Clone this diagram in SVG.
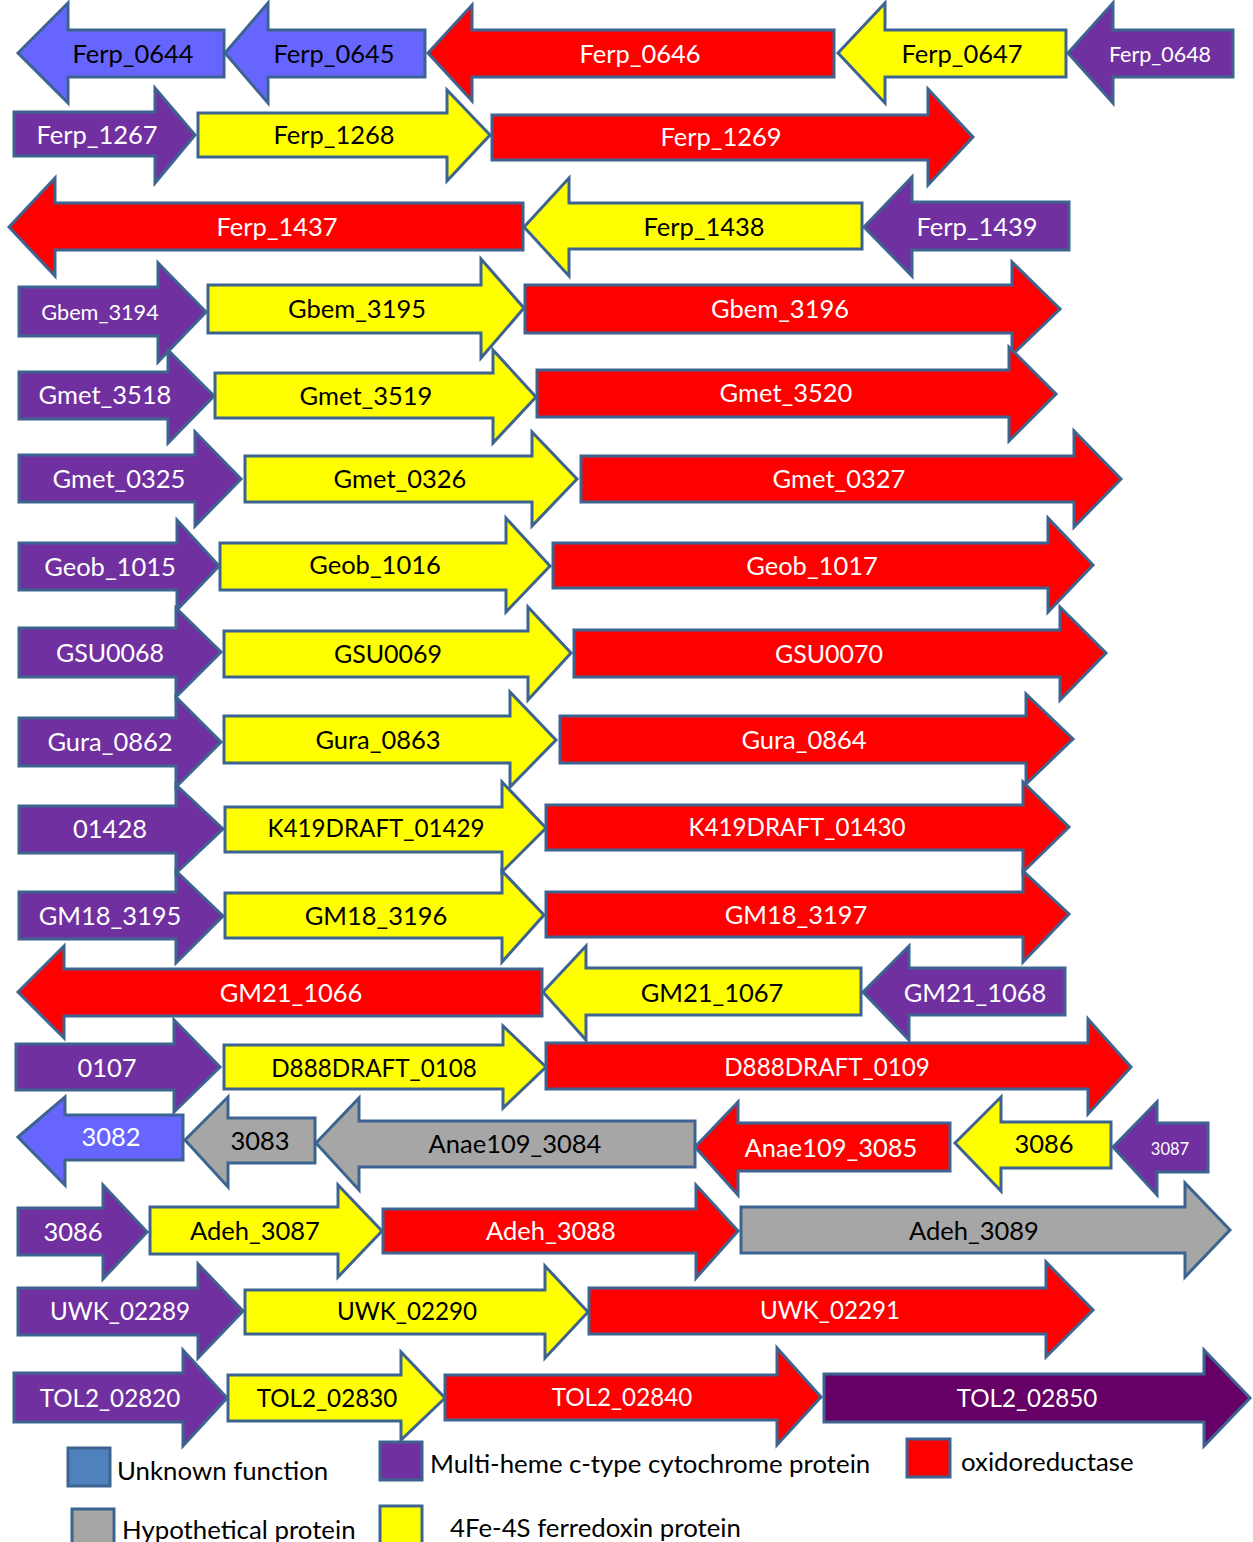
<svg xmlns="http://www.w3.org/2000/svg" width="1253" height="1542" viewBox="0 0 1253 1542">
<style>
.a{stroke:#3D6491;stroke-width:3;stroke-linejoin:miter}
.blue{fill:#6666FF}.pur{fill:#7030A0}.red{fill:#FF0000}.yel{fill:#FFFF00}.gry{fill:#A6A6A6}.dpur{fill:#660066}.unk{fill:#4F81BD}
text{font-family:Lato,"Open Sans","Liberation Sans",sans-serif;font-size:25.5px;text-anchor:middle}
.w{fill:#FFFFFF}.k{fill:#000000}
.n{font-size:24.2px}
.lg{text-anchor:start;font-size:25.8px;fill:#000}
</style>
<rect width="1253" height="1542" fill="#FFFFFF"/>
<g id="connectors"/>
<!-- Row 1 -->
<g id="Ferp_0644"><polygon class="a blue" points="18,53 68,3 68,30 224,30 224,77 68,77 68,103"/><text class="k" x="133" y="63">Ferp_0644</text></g>
<g id="Ferp_0645"><polygon class="a blue" points="225,53 268,3 268,30 425,30 425,77 268,77 268,103"/><text class="k" x="334" y="63">Ferp_0645</text></g>
<g id="Ferp_0646"><polygon class="a red" points="428,53 472,5 472,30 834,30 834,77 472,77 472,101"/><text class="w" x="640" y="63">Ferp_0646</text></g>
<g id="Ferp_0647"><polygon class="a yel" points="838,53 885,3 885,30 1066,30 1066,77 885,77 885,103"/><text class="k" x="962" y="63">Ferp_0647</text></g>
<g id="Ferp_0648"><polygon class="a pur" points="1068,53 1113,3 1113,30 1233,30 1233,77 1113,77 1113,103"/><text class="w" x="1160" y="62" style="font-size:21.5px">Ferp_0648</text></g>
<!-- Row 2 -->
<g id="Ferp_1267"><polygon class="a pur" points="14,112 155,112 155,88 195,135 155,183 155,156 14,156"/><text class="w" x="97" y="144">Ferp_1267</text></g>
<g id="Ferp_1268"><polygon class="a yel" points="198,113 447,113 447,90 490,135 447,181 447,157 198,157"/><text class="k" x="334" y="144">Ferp_1268</text></g>
<g id="Ferp_1269"><polygon class="a red" points="492,115 928,115 928,89 973,137 928,185 928,160 492,160"/><text class="w" x="721" y="146">Ferp_1269</text></g>
<!-- Row 3 -->
<g id="Ferp_1437"><polygon class="a red" points="9,227 55,178 55,203 523,203 523,250 55,250 55,276"/><text class="w" x="277" y="236">Ferp_1437</text></g>
<g id="Ferp_1438"><polygon class="a yel" points="524,227 569,178 569,203 862,203 862,249 569,249 569,276"/><text class="k" x="704" y="236">Ferp_1438</text></g>
<g id="Ferp_1439"><polygon class="a pur" points="864,227 912,177 912,202 1069,202 1069,250 912,250 912,276"/><text class="w" x="977" y="236">Ferp_1439</text></g>
<!-- Row 4 -->
<g id="Gbem_3194"><polygon class="a pur" points="19,287 158,287 158,263 206,312 158,362 158,336 19,336"/><text class="w" x="100" y="320" style="font-size:21.7px">Gbem_3194</text></g>
<g id="Gbem_3195"><polygon class="a yel" points="208,285 481,285 481,259 524,308 481,358 481,333 208,333"/><text class="k" x="357" y="318">Gbem_3195</text></g>
<g id="Gbem_3196"><polygon class="a red" points="525,285 1012,285 1012,262 1060,309 1012,355 1012,333 525,333"/><text class="w" x="780" y="318">Gbem_3196</text></g>
<!-- Row 5 -->
<g id="Gmet_3518"><polygon class="a pur" points="19,372 168,372 168,350 214,396 168,443 168,419 19,419"/><text class="w" x="105" y="404">Gmet_3518</text></g>
<g id="Gmet_3519"><polygon class="a yel" points="215,373 493,373 493,350 536,397 493,443 493,418 215,418"/><text class="k" x="366" y="405">Gmet_3519</text></g>
<g id="Gmet_3520"><polygon class="a red" points="537,370 1009,370 1009,347 1056,394 1009,441 1009,417 537,417"/><text class="w" x="786" y="402">Gmet_3520</text></g>
<!-- Row 6 -->
<g id="Gmet_0325"><polygon class="a pur" points="19,455 195,455 195,432 241,479 195,526 195,502 19,502"/><text class="w" x="119" y="488">Gmet_0325</text></g>
<g id="Gmet_0326"><polygon class="a yel" points="245,456 532,456 532,432 577,479 532,526 532,502 245,502"/><text class="k" x="400" y="488">Gmet_0326</text></g>
<g id="Gmet_0327"><polygon class="a red" points="581,456 1074,456 1074,431 1121,479 1074,527 1074,502 581,502"/><text class="w" x="839" y="488">Gmet_0327</text></g>
<!-- Row 7 -->
<g id="Geob_1015"><polygon class="a pur" points="19,543 177,543 177,520 219,566 177,610 177,590 19,590"/><text class="w" x="110" y="576">Geob_1015</text></g>
<g id="Geob_1016"><polygon class="a yel" points="220,543 506,543 506,518 550,566 506,612 506,590 220,590"/><text class="k" x="375" y="574">Geob_1016</text></g>
<g id="Geob_1017"><polygon class="a red" points="553,543 1048,543 1048,518 1093,565 1048,612 1048,588 553,588"/><text class="w" x="812" y="575">Geob_1017</text></g>
<!-- Row 8 -->
<g id="GSU0068"><polygon class="a pur" points="19,628 176,628 176,608 221,652 176,697 176,677 19,677"/><text class="w" x="110" y="662" style="font-size:25px">GSU0068</text></g>
<g id="GSU0069"><polygon class="a yel" points="224,631 528,631 528,607 571,653 528,700 528,677 224,677"/><text class="k" x="388" y="663" style="font-size:25px">GSU0069</text></g>
<g id="GSU0070"><polygon class="a red" points="574,630 1060,630 1060,607 1106,653 1060,700 1060,677 574,677"/><text class="w" x="829" y="663" style="font-size:25px">GSU0070</text></g>
<!-- Row 9 -->
<g id="Gura_0862"><polygon class="a pur" points="19,718 176,718 176,697 221,742 176,787 176,766 19,766"/><text class="w" x="110" y="751">Gura_0862</text></g>
<g id="Gura_0863"><polygon class="a yel" points="224,716 510,716 510,692 556,740 510,787 510,763 224,763"/><text class="k" x="378" y="749">Gura_0863</text></g>
<g id="Gura_0864"><polygon class="a red" points="560,716 1026,716 1026,694 1073,739 1026,784 1026,763 560,763"/><text class="w" x="804" y="749">Gura_0864</text></g>
<!-- Row 10 -->
<g id="K419_01428"><polygon class="a pur" points="19,806 176,806 176,785 223,829 176,873 176,853 19,853"/><text class="w" x="110" y="838">01428</text></g>
<g id="K419DRAFT_01429"><polygon class="a yel" points="225,807 502,807 502,782 546,828 502,872 502,852 225,852"/><text class="k n" x="376" y="837">K419DRAFT_01429</text></g>
<g id="K419DRAFT_01430"><polygon class="a red" points="546,805 1023,805 1023,782 1069,827 1023,872 1023,850 546,850"/><text class="w n" x="797" y="836">K419DRAFT_01430</text></g>
<!-- Row 11 -->
<g id="GM18_3195"><polygon class="a pur" points="19,892 176,892 176,871 223,916 176,963 176,939 19,939"/><text class="w" x="110" y="925">GM18_3195</text></g>
<g id="GM18_3196"><polygon class="a yel" points="225,893 502,893 502,871 544,915 502,962 502,938 225,938"/><text class="k" x="376" y="925">GM18_3196</text></g>
<g id="GM18_3197"><polygon class="a red" points="546,892 1023,892 1023,871 1069,914 1023,962 1023,937 546,937"/><text class="w" x="796" y="924">GM18_3197</text></g>
<!-- Row 12 -->
<g id="GM21_1066"><polygon class="a red" points="18,992 64,946 64,969 542,969 542,1016 64,1016 64,1038"/><text class="w" x="291" y="1002">GM21_1066</text></g>
<g id="GM21_1067"><polygon class="a yel" points="543,992 586,946 586,968 861,968 861,1015 586,1015 586,1040"/><text class="k" x="712" y="1002">GM21_1067</text></g>
<g id="GM21_1068"><polygon class="a pur" points="863,992 909,946 909,968 1065,968 1065,1015 909,1015 909,1040"/><text class="w" x="975" y="1002">GM21_1068</text></g>
<!-- Row 13 -->
<g id="D888_0107"><polygon class="a pur" points="16,1044 174,1044 174,1020 220,1067 174,1112 174,1090 16,1090"/><text class="w" x="107" y="1077">0107</text></g>
<g id="D888DRAFT_0108"><polygon class="a yel" points="224,1045 503,1045 503,1026 546,1067 503,1108 503,1089 224,1089"/><text class="k n" x="374" y="1077">D888DRAFT_0108</text></g>
<g id="D888DRAFT_0109"><polygon class="a red" points="546,1043 1088,1043 1088,1019 1131,1067 1088,1114 1088,1089 546,1089"/><text class="w n" x="827" y="1076">D888DRAFT_0109</text></g>
<!-- Row 14 -->
<g id="Anae109_3082"><polygon class="a blue" points="18,1137 65,1097 65,1115 183,1115 183,1160 65,1160 65,1185"/><text class="w" x="111" y="1146">3082</text></g>
<g id="Anae109_3083"><polygon class="a gry" points="185,1140 228,1097 228,1118 315,1118 315,1163 228,1163 228,1187"/><text class="k" x="260" y="1150">3083</text></g>
<g id="Anae109_3084"><polygon class="a gry" points="316,1143 359,1098 359,1121 695,1121 695,1167 359,1167 359,1190"/><text class="k" x="515" y="1153">Anae109_3084</text></g>
<g id="Anae109_3085"><polygon class="a red" points="695,1147 738,1102 738,1123 950,1123 950,1171 738,1171 738,1195"/><text class="w" x="831" y="1157">Anae109_3085</text></g>
<g id="Anae109_3086"><polygon class="a yel" points="955,1143 1001,1097 1001,1122 1111,1122 1111,1168 1001,1168 1001,1191"/><text class="k" x="1044" y="1153">3086</text></g>
<g id="Anae109_3087"><polygon class="a pur" points="1113,1147 1157,1102 1157,1123 1208,1123 1208,1172 1157,1172 1157,1195"/><text class="w" x="1170" y="1155" style="font-size:16.5px">3087</text></g>
<!-- Row 15 -->
<g id="Adeh_3086"><polygon class="a pur" points="18,1208 103,1208 103,1185 147,1232 103,1279 103,1255 18,1255"/><text class="w" x="73" y="1241">3086</text></g>
<g id="Adeh_3087"><polygon class="a yel" points="150,1207 338,1207 338,1185 382,1231 338,1277 338,1254 150,1254"/><text class="k" x="255" y="1240">Adeh_3087</text></g>
<g id="Adeh_3088"><polygon class="a red" points="383,1209 696,1209 696,1185 738,1231 696,1278 696,1253 383,1253"/><text class="w" x="551" y="1240">Adeh_3088</text></g>
<g id="Adeh_3089"><polygon class="a gry" points="741,1207 1185,1207 1185,1183 1230,1230 1185,1277 1185,1253 741,1253"/><text class="k" x="974" y="1240">Adeh_3089</text></g>
<!-- Row 16 -->
<g id="UWK_02289"><polygon class="a pur" points="18,1288 198,1288 198,1264 243,1311 198,1358 198,1335 18,1335"/><text class="w n" x="120" y="1320">UWK_02289</text></g>
<g id="UWK_02290"><polygon class="a yel" points="245,1290 545,1290 545,1266 588,1312 545,1358 545,1334 245,1334"/><text class="k n" x="407" y="1320">UWK_02290</text></g>
<g id="UWK_02291"><polygon class="a red" points="589,1288 1046,1288 1046,1262 1093,1310 1046,1357 1046,1334 589,1334"/><text class="w n" x="830" y="1319">UWK_02291</text></g>
<!-- Row 17 -->
<g id="TOL2_02820"><polygon class="a pur" points="14,1373 183,1373 183,1350 227,1398 183,1446 183,1422 14,1422"/><text class="w n" x="110" y="1407">TOL2_02820</text></g>
<g id="TOL2_02830"><polygon class="a yel" points="228,1375 401,1375 401,1352 445,1398 401,1440 401,1421 228,1421"/><text class="k n" x="327" y="1407">TOL2_02830</text></g>
<g id="TOL2_02840"><polygon class="a red" points="445,1375 777,1375 777,1348 821,1397 777,1445 777,1420 445,1420"/><text class="w n" x="622" y="1406">TOL2_02840</text></g>
<g id="TOL2_02850"><polygon class="a dpur" points="824,1374 1204,1374 1204,1350 1250,1398 1204,1446 1204,1422 824,1422"/><text class="w n" x="1027" y="1407">TOL2_02850</text></g>
<!-- Legend -->
<g id="legend">
<rect class="a unk" x="68" y="1448" width="42" height="38"/><text class="lg" x="117" y="1480">Unknown function</text>
<rect class="a pur" x="380" y="1442" width="42" height="38"/><text class="lg" x="430" y="1473">Multi-heme c-type cytochrome protein</text>
<rect class="a red" x="907" y="1439" width="43" height="38"/><text class="lg" x="961" y="1471">oxidoreductase</text>
<rect class="a gry" x="72" y="1509" width="42" height="40"/><text class="lg" x="122" y="1539">Hypothetical protein</text>
<rect class="a yel" x="380" y="1506" width="42" height="38"/><text class="lg" x="450" y="1537">4Fe-4S ferredoxin protein</text>
</g>
</svg>
